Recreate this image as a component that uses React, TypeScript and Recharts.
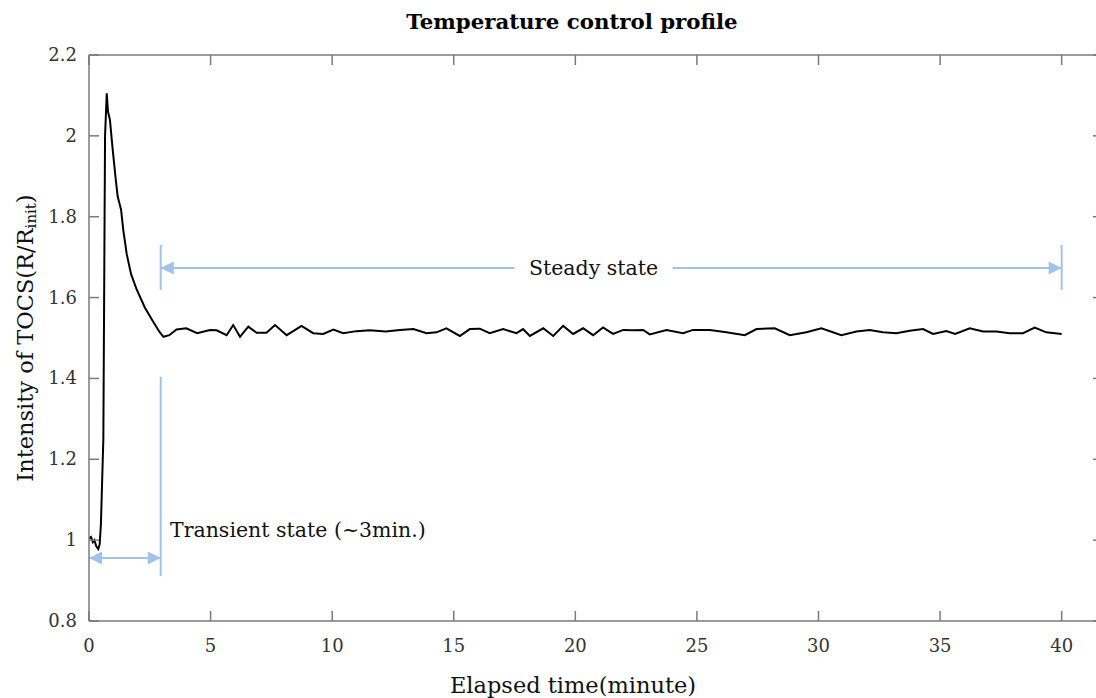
import React from "react";
import {
  Line,
  LineChart,
  ReferenceDot,
  ReferenceLine,
  XAxis,
  YAxis,
} from "recharts";

const FONT = "'DejaVu Serif', 'Liberation Serif', serif";
const AXIS = "#7a7a7a";
const NOTE = "#a3c2ea";

// elapsed time (minute) and TOCS intensity
const times = [
  0, 0.08, 0.16, 0.22, 0.3, 0.38, 0.44, 0.49, 0.59, 0.66, 0.73, 0.78, 0.86,
  0.96, 1.1, 1.18, 1.32, 1.41, 1.55, 1.73, 1.96, 2.3, 2.64, 2.9, 3.06, 3.3,
  3.6, 4.0, 4.45, 4.97, 5.25, 5.66, 5.93, 6.21, 6.55, 6.89, 7.3, 7.65, 8.13,
  8.74, 9.22, 9.63, 10.05, 10.45, 11.0, 11.55, 12.2, 12.79, 13.34, 13.88,
  14.29, 14.7, 15.25, 15.66, 16.07, 16.48, 17.03, 17.58, 17.85, 18.13, 18.68,
  19.09, 19.5, 19.91, 20.32, 20.73, 21.14, 21.55, 21.97, 22.38, 22.79, 23.06,
  23.75, 24.43, 24.84, 25.53, 26.21, 26.97, 27.45, 28.2, 28.82, 29.5, 30.12,
  30.94, 31.56, 32.1, 32.65, 33.2, 33.75, 34.3, 34.71, 35.26, 35.62, 36.22,
  36.77, 37.32, 37.86, 38.41, 38.89, 39.37, 40.0,
];
const intensity = [
  1.005, 1.008, 0.995, 1.0, 0.985, 0.978, 0.99, 1.04, 1.25, 2.0, 2.105, 2.06,
  2.04, 1.975, 1.892, 1.85, 1.817, 1.767, 1.708, 1.658, 1.62, 1.575, 1.54,
  1.515, 1.503, 1.507, 1.521, 1.524, 1.512, 1.52, 1.519, 1.507, 1.532, 1.503,
  1.528, 1.513, 1.513, 1.532, 1.507, 1.53, 1.512, 1.51, 1.521, 1.512, 1.517,
  1.519, 1.516, 1.52, 1.522, 1.512, 1.514, 1.524, 1.505, 1.522, 1.523, 1.512,
  1.522, 1.512, 1.522, 1.505, 1.524, 1.505, 1.53, 1.51, 1.524, 1.507, 1.526,
  1.51, 1.52, 1.519, 1.52, 1.509, 1.52, 1.512, 1.52, 1.52, 1.514, 1.507,
  1.522, 1.524, 1.507, 1.514, 1.524, 1.507, 1.516, 1.52, 1.514, 1.512, 1.518,
  1.522, 1.51, 1.517, 1.51, 1.524, 1.516, 1.516, 1.512, 1.512, 1.526, 1.514,
  1.51,
];

const xTicks = [0, 5, 10, 15, 20, 25, 30, 35, 40];
const yTicks = [0.8, 1, 1.2, 1.4, 1.6, 1.8, 2, 2.2];

const data = times.map((t, i) => ({ t, v: intensity[i] }));

const fmt = (v: number) => String(Math.round(v * 10) / 10);

const BottomTick = ({ x, y, payload }: any) => (
  <g>
    <line x1={x} y1={y} x2={x} y2={y - 10} stroke={AXIS} strokeWidth={1.5} />
    <text x={x} y={y + 31} textAnchor="middle" fontFamily={FONT} fontSize={18} fill="#333">
      {fmt(payload.value)}
    </text>
  </g>
);

const TopTick = ({ x, y }: any) => (
  <line x1={x} y1={y} x2={x} y2={y + 10} stroke={AXIS} strokeWidth={1.5} />
);

const LeftTick = ({ x, y, payload }: any) => (
  <g>
    <line x1={x} y1={y} x2={x + 10} y2={y} stroke={AXIS} strokeWidth={1.5} />
    <text x={x - 12} y={y + 6} textAnchor="end" fontFamily={FONT} fontSize={18} fill="#333">
      {fmt(payload.value)}
    </text>
  </g>
);

const RightTick = ({ x, y }: any) => (
  <line x1={x} y1={y} x2={x - 10} y2={y} stroke={AXIS} strokeWidth={1.5} />
);

const arrow = (start: boolean, end: boolean) => (p: any) => {
  const { x1, y1, x2, y2 } = p;
  const L = 13;
  const H = 6.5;
  return (
    <g>
      <line x1={x1} y1={y1} x2={x2} y2={y2} stroke={NOTE} strokeWidth={2} />
      {start && (
        <polygon points={`${x1},${y1} ${x1 + L},${y1 - H} ${x1 + L},${y1 + H}`} fill={NOTE} />
      )}
      {end && (
        <polygon points={`${x2},${y2} ${x2 - L},${y2 - H} ${x2 - L},${y2 + H}`} fill={NOTE} />
      )}
    </g>
  );
};

export default function App() {
  return (
    <div
      style={{
        position: "fixed",
        left: 0,
        top: 0,
        width: 1096,
        height: 698,
        overflow: "hidden",
        background: "#fff",
      }}
    >
      <LineChart width={1112} height={698} data={data} margin={{ top: 54, right: 8, bottom: 0, left: 0 }}>
        <XAxis
          dataKey="t"
          type="number"
          domain={[0, 41.7]}
          ticks={xTicks}
          allowDataOverflow
          height={77}
          stroke={AXIS}
          strokeWidth={1.5}
          tickLine={false}
          tickSize={0}
          tickMargin={0}
          tick={BottomTick}
          label={{
            content: () => (
              <text x={573} y={693} textAnchor="middle" fontFamily={FONT} fontSize={22.5} fill="#111">
                Elapsed time(minute)
              </text>
            ),
          }}
        />
        <XAxis
          xAxisId="top"
          orientation="top"
          dataKey="t"
          type="number"
          domain={[0, 41.7]}
          ticks={xTicks}
          allowDataOverflow
          height={1}
          stroke={AXIS}
          strokeWidth={1.5}
          tickLine={false}
          tickSize={0}
          tickMargin={0}
          tick={TopTick}
          label={{
            content: () => (
              <text x={572} y={29} textAnchor="middle" fontFamily={FONT} fontSize={21.3} fontWeight="bold" fill="#000">
                Temperature control profile
              </text>
            ),
          }}
        />
        <YAxis
          type="number"
          domain={[0.8, 2.2]}
          ticks={yTicks}
          allowDataOverflow
          width={89}
          stroke={AXIS}
          strokeWidth={1.5}
          tickLine={false}
          tickSize={0}
          tickMargin={0}
          tick={LeftTick}
          label={{
            content: () => (
              <text
                x={27}
                y={338}
                transform="rotate(-90 27 338)"
                textAnchor="middle"
                dominantBaseline="middle"
                fontFamily={FONT}
                fontSize={22.5}
                fill="#111"
              >
                Intensity of TOCS(R/R
                <tspan fontSize={15} dy={5}>init</tspan>
                <tspan dy={-5}>)</tspan>
              </text>
            ),
          }}
        />
        <YAxis
          yAxisId="right"
          orientation="right"
          type="number"
          domain={[0.8, 2.2]}
          ticks={yTicks}
          allowDataOverflow
          width={1}
          stroke={AXIS}
          strokeWidth={1.5}
          tickLine={false}
          tickSize={0}
          tickMargin={0}
          tick={RightTick}
        />
        <ReferenceLine segment={[{ x: 2.95, y: 1.619 }, { x: 2.95, y: 1.73 }]} stroke={NOTE} strokeWidth={2} />
        <ReferenceLine segment={[{ x: 40, y: 1.619 }, { x: 40, y: 1.73 }]} stroke={NOTE} strokeWidth={2} />
        <ReferenceLine segment={[{ x: 2.95, y: 0.911 }, { x: 2.95, y: 1.404 }]} stroke={NOTE} strokeWidth={2} />
        <ReferenceLine segment={[{ x: 2.95, y: 1.673 }, { x: 17.5, y: 1.673 }]} shape={arrow(true, false)} />
        <ReferenceLine segment={[{ x: 24.0, y: 1.673 }, { x: 40, y: 1.673 }]} shape={arrow(false, true)} />
        <ReferenceLine segment={[{ x: 0, y: 0.956 }, { x: 2.95, y: 0.956 }]} shape={arrow(true, true)} />
        <ReferenceDot
          x={20.75}
          y={1.673}
          r={0}
          fill="none"
          stroke="none"
          label={{ value: "Steady state", position: "center", fontFamily: FONT, fontSize: 20.5, fill: "#111" }}
        />
        <ReferenceDot
          x={3.33}
          y={1.025}
          r={0}
          fill="none"
          stroke="none"
          label={{ value: "Transient state (~3min.)", position: "right", offset: 0, fontFamily: FONT, fontSize: 20.5, fill: "#111" }}
        />
        <Line
          type="linear"
          dataKey="v"
          stroke="#000"
          strokeWidth={2}
          dot={false}
          isAnimationActive={false}
        />
        <Line
          xAxisId="top"
          yAxisId="right"
          type="linear"
          dataKey="v"
          stroke="none"
          dot={false}
          activeDot={false}
          legendType="none"
          isAnimationActive={false}
        />
      </LineChart>
    </div>
  );
}
